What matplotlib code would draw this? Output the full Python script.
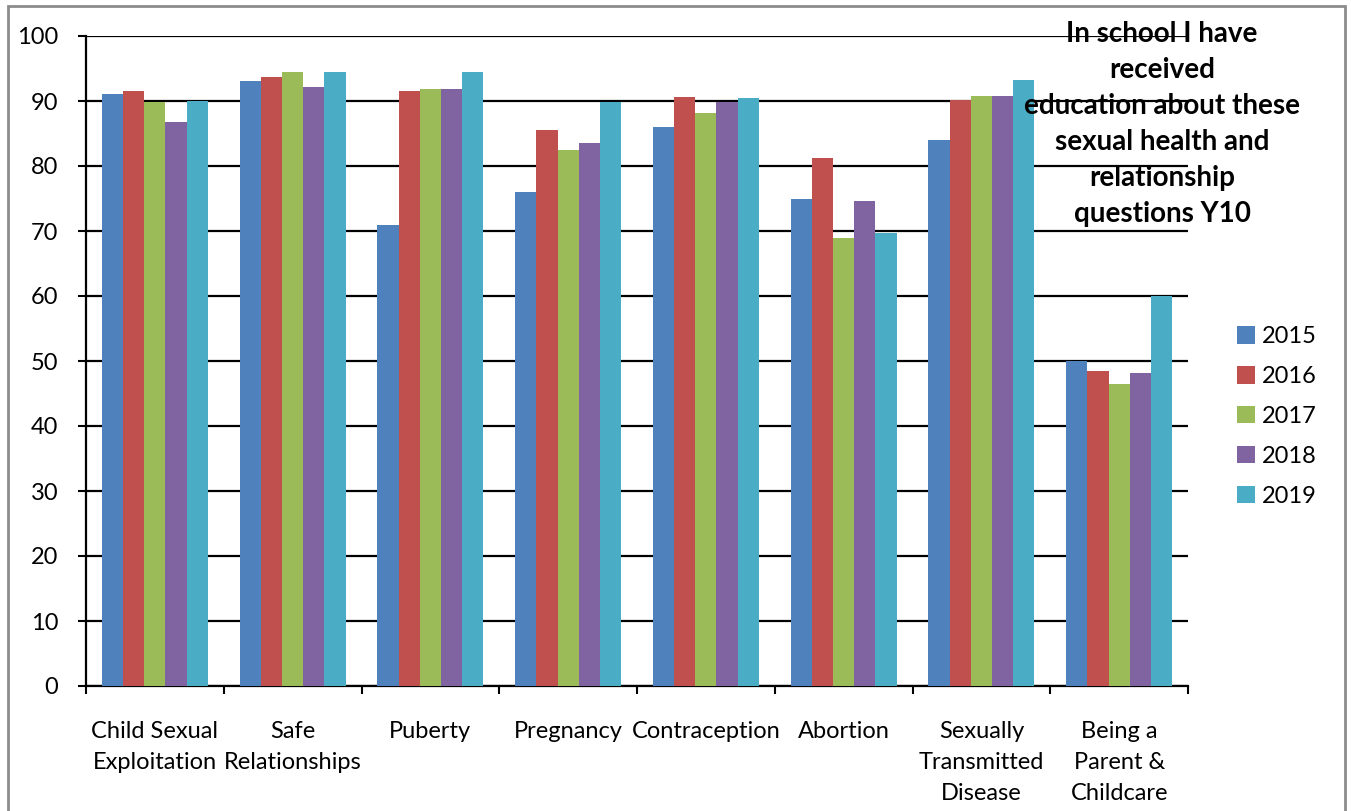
import numpy as np
import matplotlib
matplotlib.use("Agg")
import matplotlib.pyplot as plt
from matplotlib.patches import Rectangle

plt.rcParams['font.family'] = ['Lato', 'DejaVu Sans']

categories = ["Child Sexual\nExploitation", "Safe\nRelationships", "Puberty",
              "Pregnancy", "Contraception", "Abortion",
              "Sexually\nTransmitted\nDisease", "Being a\nParent &\nChildcare"]
years = ["2015", "2016", "2017", "2018", "2019"]

y2015 = [91.1, 93.1, 70.9, 76.0, 86.0, 74.9, 84.0, 50.0]
y2016 = [91.5, 93.7, 91.5, 85.5, 90.6, 81.2, 90.2, 48.5]
y2017 = [89.8, 94.5, 91.8, 82.5, 88.2, 68.9, 90.8, 46.5]
y2018 = [86.8, 92.2, 91.8, 83.5, 89.8, 74.6, 90.8, 48.2]
y2019 = [90.0, 94.5, 94.5, 89.8, 90.4, 69.7, 93.2, 60.0]
series = [y2015, y2016, y2017, y2018, y2019]
colors = ["#4F81BD", "#C0504D", "#9BBB59", "#8064A2", "#4BACC6"]

title = "In school I have\nreceived\neducation about these\nsexual health and\nrelationship\nquestions Y10"

W, H = 1351, 811
fig = plt.figure(figsize=(W / 100, H / 100), dpi=100)
ax = fig.add_axes([86 / W, 1 - 686 / H, (1188 - 86) / W, (686 - 36) / H])

n = len(series)
bar_w = 1 / 6.5
x = np.arange(len(categories))
for i, (vals, col) in enumerate(zip(series, colors)):
    offs = (i - (n - 1) / 2) * bar_w
    ax.bar(x + offs, vals, width=bar_w, color=col, label=years[i], zorder=3)

ax.set_xlim(-0.5, len(categories) - 0.5)
ax.set_ylim(0, 100)
ax.set_yticks(np.arange(0, 101, 10))
ax.yaxis.grid(True, color="black", linewidth=1.6, zorder=1)
ax.set_axisbelow(True)

# category boundaries carry the x ticks; labels sit at the centres
ax.set_xticks(np.arange(-0.5, len(categories), 1))
ax.set_xticklabels([])
ax.set_xticks(x, minor=True)
ax.set_xticklabels(categories, minor=True, fontsize=17, linespacing=1.6)
ax.tick_params(axis="x", which="minor", length=0, pad=25)
ax.tick_params(axis="x", which="major", length=6, width=1.5, direction="out")
ax.tick_params(axis="y", length=6, width=1.5, direction="out", labelsize=17, pad=14)

for s in ["top", "right"]:
    ax.spines[s].set_visible(False)
ax.spines["left"].set_linewidth(1.6)
ax.spines["bottom"].set_linewidth(1.6)

fig.text(1162 / W, 1 - 21 / H, title, ha="center", va="top", fontsize=20,
         fontweight="bold", linespacing=1.48)

leg = fig.legend(loc="upper left", bbox_to_anchor=(1216 / W, 1 - 305 / H),
                 frameon=False, fontsize=17, handlelength=0.75, handleheight=0.75,
                 handletextpad=0.3, labelspacing=0.8)

fig.add_artist(Rectangle((8 / W, -0.05), (1345 - 8) / W, 1.05 - 6 / H,
                         transform=fig.transFigure, fill=False,
                         edgecolor="#8c8c8c", linewidth=2))

fig.savefig("out.png", dpi=100)
